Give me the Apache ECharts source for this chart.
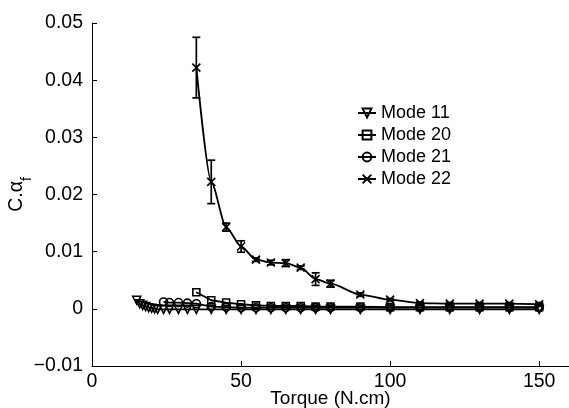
<!DOCTYPE html>
<html>
<head>
<meta charset="utf-8">
<script src="https://cdn.jsdelivr.net/npm/echarts@6/dist/echarts.min.js"></script>
<style>html,body{margin:0;padding:0;background:#fff}#c{width:569px;height:408px}</style>
</head>
<body>
<div id="c"></div>
<script>
// ---- data ----
const xTickLabels = ['0', '50', '100', '150'];
const yTickLabels = ['−0.01', '0', '0.01', '0.02', '0.03', '0.04', '0.05'];

const x11 = [15,16,17,18,19,20,21,22,24,26,29,32,35,40,45,50,55,60,65,70,75,80,90,100,110,120,130,140,150];
const m11 = [0.0015,0.0009,0.0006,0.0004,0.0002,0.0001,0.0000,-0.0001,-0.0001,-0.0001,-0.0001,-0.0001,-0.0001,-0.0001,-0.0001,-0.0001,-0.0001,-0.0001,-0.0001,-0.0001,-0.0001,-0.0001,-0.0001,-0.0001,-0.0001,-0.0001,-0.0001,-0.0001,-0.0001];

const x20 = [35,40,45,50,55,60,65,70,75,80,90,100,110,120,130,140,150];
const m20 = [0.0029,0.0015,0.0011,0.0008,0.0006,0.0005,0.0005,0.0005,0.0004,0.0004,0.0004,0.0003,0.0003,0.0003,0.0003,0.0003,0.0003];

const x21 = [24,26,29,32,35,40,45,50,55,60,65,70,75,80,90,100,110,120,130,140,150];
const m21 = [0.0012,0.0011,0.0011,0.0010,0.0009,0.0004,0.0003,0.0002,0.0002,0.0002,0.0002,0.0002,0.0002,0.0002,0.0002,0.0002,0.0002,0.0002,0.0002,0.0002,0.0002];

const x22 = [35,40,45,50,55,60,65,70,75,80,90,100,110,120,130,140,150];
const m22 = [0.0422,0.0222,0.0143,0.0109,0.0086,0.0081,0.0080,0.0072,0.0052,0.0044,0.0025,0.0016,0.0010,0.0009,0.0009,0.0009,0.0008];
const e22 = [0.0053,0.0038,0.0007,0.0010,0.0003,0.0004,0.0006,0.0003,0.0011,0.0006,0.0003,0.0002,0.0002,0.0002,0.0002,0.0002,0.0003];

const seriesNames = ['Mode 11', 'Mode 20', 'Mode 21', 'Mode 22'];

// ---- build ----
const FONT = 'Liberation Sans, Arial, sans-serif';
const FS = 19.5;
const pairs = (xs, ys) => xs.map((x, i) => [x, ys[i]]);
const errData = x22.map((x, i) => [x, m22[i] - e22[i], m22[i] + e22[i]]);

const markerStyle = { color: 'rgba(0,0,0,0)', borderColor: '#000', borderWidth: 1.6 };
const lineStyle = { color: '#000', width: 1.8 };

function lineSeries(name, data, symbol, size, extra) {
  return Object.assign({
    name, type: 'line', data, symbol, symbolSize: size,
    showAllSymbol: true,
    itemStyle: markerStyle, lineStyle: lineStyle,
    emphasis: { disabled: true }, animation: false
  }, extra || {});
}

const chart = echarts.init(document.getElementById('c'));
chart.setOption({
  animation: false,
  backgroundColor: '#fff',
  textStyle: { fontFamily: FONT },
  grid: { left: 92, top: 23, width: 477, height: 343, containLabel: false, outerBoundsMode: 'none' },
  legend: {
    data: seriesNames,
    orient: 'vertical', left: 357, top: 104,
    itemGap: 4, itemWidth: 18, itemHeight: 11, padding: 0,
    textStyle: { fontFamily: FONT, fontSize: 18, color: '#000', padding: [0, 0, 0, 0] },
    selectedMode: false
  },
  xAxis: {
    type: 'value', min: 0, max: 160, interval: 50,
    name: 'Torque (N.cm)', nameLocation: 'middle', nameGap: 23, nameMoveOverlap: false,
    nameTextStyle: { fontFamily: FONT, fontSize: 19, color: '#000' },
    axisLine: { show: true, onZero: false, lineStyle: { color: '#000', width: 1 } },
    axisTick: { show: true, inside: true, length: 5, lineStyle: { color: '#000' } },
    axisLabel: {
      fontFamily: FONT, fontSize: FS, color: '#000', margin: 6, showMaxLabel: false,
      formatter: v => { const i = [0, 50, 100, 150].indexOf(v); return i >= 0 ? xTickLabels[i] : ''; }
    },
    splitLine: { show: false }
  },
  yAxis: {
    type: 'value', min: -0.01, max: 0.05, interval: 0.01,
    name: '{a|C.α}{b|f}', nameLocation: 'middle', nameGap: 58, nameMoveOverlap: false,
    nameTextStyle: {
      color: '#000',
      rich: {
        a: { fontFamily: FONT, fontSize: FS, lineHeight: 34, color: '#000', verticalAlign: 'middle' },
        b: { fontFamily: FONT, fontSize: 14, lineHeight: 12, color: '#000', verticalAlign: 'bottom' }
      }
    },
    axisLine: { show: true, onZero: false, lineStyle: { color: '#000', width: 1 } },
    axisTick: { show: true, inside: true, length: 5, lineStyle: { color: '#000' } },
    axisLabel: {
      fontFamily: FONT, fontSize: FS, color: '#000', margin: 9,
      formatter: v => { const i = Math.round((v + 0.01) / 0.01); return yTickLabels[i] !== undefined ? yTickLabels[i] : ''; }
    },
    splitLine: { show: false }
  },
  series: [
    lineSeries('Mode 11', pairs(x11, m11), 'triangle', 8, { symbolRotate: 180 }),
    lineSeries('Mode 20', pairs(x20, m20), 'rect', 7),
    lineSeries('Mode 21', pairs(x21, m21), 'circle', 8),
    lineSeries('Mode 22', pairs(x22, m22), 'path://M0,0L10,10M10,0L0,10', 8, { smooth: 0.25, smoothMonotone: 'x' }),
    {
      name: 'err22', type: 'custom', data: errData, silent: true, z: 3,
      renderItem: (params, api) => {
        const x = api.value(0), lo = api.value(1), hi = api.value(2);
        const pt = api.coord([x, hi]), pb = api.coord([x, lo]);
        const w = 4, st = { stroke: '#000', lineWidth: 1.7 };
        return { type: 'group', children: [
          { type: 'line', shape: { x1: pt[0], y1: pt[1], x2: pb[0], y2: pb[1] }, style: st },
          { type: 'line', shape: { x1: pt[0] - w, y1: pt[1], x2: pt[0] + w, y2: pt[1] }, style: st },
          { type: 'line', shape: { x1: pb[0] - w, y1: pb[1], x2: pb[0] + w, y2: pb[1] }, style: st }
        ]};
      }
    }
  ]
});
</script>
</body>
</html>
